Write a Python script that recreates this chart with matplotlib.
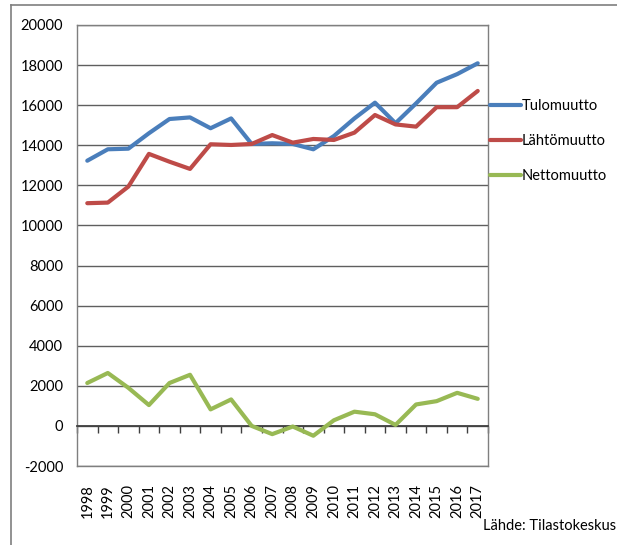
import matplotlib
matplotlib.use("Agg")
import matplotlib.pyplot as plt
from matplotlib.lines import Line2D

years = ["1998", "1999", "2000", "2001", "2002", "2003", "2004", "2005", "2006", "2007",
         "2008", "2009", "2010", "2011", "2012", "2013", "2014", "2015", "2016", "2017"]
tulomuutto = [13230, 13800, 13830, 14600, 15310, 15390, 14850, 15340, 14065, 14100,
              14065, 13800, 14460, 15340, 16125, 15100, 16090, 17120, 17550, 18090]
lahtomuutto = [11110, 11140, 11940, 13570, 13180, 12820, 14050, 14015, 14065, 14510,
               14130, 14315, 14265, 14630, 15510, 15040, 14930, 15900, 15900, 16710]
nettomuutto = [2140, 2640, 1900, 1040, 2140, 2550, 825, 1320, 0, -410,
               -30, -490, 280, 710, 580, 50, 1070, 1235, 1650, 1350]
series_names = ["Tulomuutto", "Lähtömuutto", "Nettomuutto"]
colors = ["#4A7EBB", "#BE4B48", "#98B954"]
yticks = list(range(-2000, 20001, 2000))
source = "Lähde: Tilastokeskus"

plt.rcParams['font.family'] = ['Lato', 'DejaVu Sans']
W, H = 617, 545
fig = plt.figure(figsize=(W / 100, H / 100), dpi=100)

# outer chart frame (cropped: only top and left visible)
fig.add_artist(Line2D([11 / W, 11 / W], [0, 1 - 5 / H], color="#7f7f7f", lw=1.2,
                      transform=fig.transFigure))
fig.add_artist(Line2D([11 / W, 1], [1 - 5 / H, 1 - 5 / H], color="#7f7f7f", lw=1.2,
                      transform=fig.transFigure))

left, right, top, bottom = 77, 488, 25, 466
ax = fig.add_axes([left / W, 1 - bottom / H, (right - left) / W, (bottom - top) / H])

x = list(range(len(years)))
for vals, name, c in zip([tulomuutto, lahtomuutto, nettomuutto], series_names, colors):
    ax.plot(x, vals, color=c, lw=3.0, label=name, solid_capstyle="round", zorder=3)

ax.set_xlim(-0.5, len(years) - 0.5)
ax.set_ylim(-2000, 20000)
ax.set_yticks(yticks)
ax.set_yticklabels([str(v) for v in yticks], fontsize=10.5)
ax.tick_params(axis="y", length=0, pad=10)
ax.yaxis.grid(True, color="#5f5f5f", lw=1.0)
ax.set_axisbelow(True)

for s in ["top", "right", "left"]:
    ax.spines[s].set_color("#7f7f7f")
    ax.spines[s].set_linewidth(1.0)
ax.spines["bottom"].set_position(("data", 0))
ax.spines["bottom"].set_color("#404040")
ax.spines["bottom"].set_linewidth(1.3)
ax.set_xticks([i - 0.5 for i in range(len(years) + 1)])
ax.set_xticklabels([])
ax.tick_params(axis="x", direction="out", length=5, width=1, color="#404040")

sec = ax.secondary_xaxis(0)
sec.set_xticks(x)
sec.set_xticklabels(years, rotation=90, fontsize=10.5)
sec.tick_params(axis="x", length=0, pad=13)
sec.spines["bottom"].set_color("#7f7f7f")
sec.spines["bottom"].set_linewidth(1.0)

handles, labels = ax.get_legend_handles_labels()
fig.legend(handles, labels, loc="upper left", bbox_to_anchor=(490 / W, 1 - 99 / H),
           frameon=False, fontsize=10.5, handlelength=2.1, handletextpad=0.1,
           labelspacing=1.45, borderaxespad=0, borderpad=0)

fig.text(483 / W, 1 - 526 / H, source, fontsize=10.5, va="center", ha="left")

fig.savefig("out.png", dpi=100)
